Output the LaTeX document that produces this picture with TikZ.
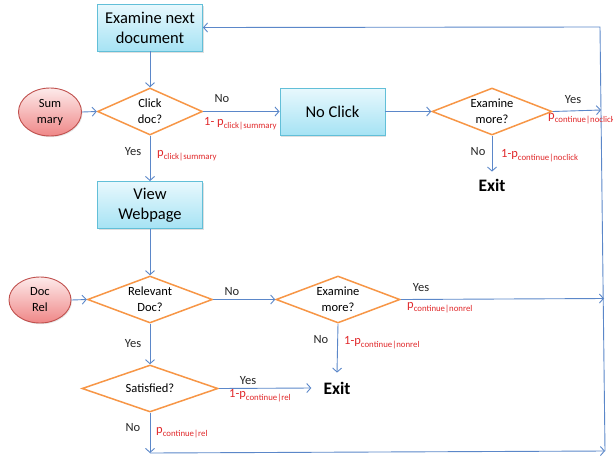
\documentclass[tikz,border=0pt]{standalone}
\usepackage{fontspec}
\setmainfont{Carlito}
\usetikzlibrary{shapes.geometric,arrows.meta,shadows}
\definecolor{boxtop}{HTML}{E8F8FD}
\definecolor{boxbot}{HTML}{A6E3F4}
\definecolor{boxline}{HTML}{62BFD8}
\definecolor{elltop}{HTML}{FDEAEA}
\definecolor{ellbot}{HTML}{EF8787}
\definecolor{ellline}{HTML}{C0504D}
\definecolor{decline}{HTML}{F79646}
\definecolor{conn}{HTML}{5B87C9}
\definecolor{plabel}{HTML}{E0282A}
\newcommand{\psub}[1]{p\raisebox{-3pt}{\fontsize{8.8}{10}\selectfont #1}}
\begin{document}
\begin{tikzpicture}[x=1pt,y=-1pt,
  boxnode/.style={rectangle, draw=boxline, line width=0.9pt, top color=boxtop, bottom color=boxbot,
    minimum width=105pt, minimum height=47pt, inner sep=0pt, align=center,
    font=\fontsize{16.5}{20}\selectfont,
    drop shadow={opacity=0.25, shadow xshift=1.2pt, shadow yshift=-1.5pt, fill=gray}},
  decnode/.style={diamond, draw=decline, line width=1.5pt, fill=white, aspect=2.6, inner sep=0pt,
    align=center, font=\fontsize{12.5}{16}\selectfont, minimum height=47pt},
  srcnode/.style={ellipse, draw=ellline, line width=0.9pt, top color=elltop, bottom color=ellbot,
    inner sep=0pt, align=center, font=\fontsize{12.5}{16}\selectfont,
    drop shadow={opacity=0.2, shadow xshift=1pt, shadow yshift=-1.2pt, fill=gray}},
  exitnode/.style={font=\fontsize{17.5}{20}\selectfont\bfseries, inner xsep=12pt},
  arr/.style={draw=conn, line width=0.9pt, -{Straight Barb[length=4pt,width=9pt]}},
  lbl/.style={font=\fontsize{12.5}{15}\selectfont, text=black!85, inner sep=0pt},
  plbl/.style={font=\fontsize{12.5}{15}\selectfont, text=plabel, inner sep=0pt, anchor=base west}]
\useasboundingbox (0,0) rectangle (613,456);

% nodes
\node[boxnode] (ex) at (150,27.5) {Examine next\\document};
\node[decnode, minimum width=105pt] (cd) at (150,111.5) {Click\\doc?};
\node[srcnode, minimum width=63pt, minimum height=48pt] (sum) at (50,112) {Sum\\mary};
\node[boxnode] (nc) at (332.5,111.5) {No Click};
\node[decnode, minimum width=120pt] (em1) at (492,111.5) {Examine\\more?};
\node[exitnode, inner ysep=7pt] (exit1) at (492,185) {Exit};
\node[boxnode] (vw) at (150,205) {View\\Webpage};
\node[decnode, minimum width=125pt] (rd) at (150,299.5) {Relevant\\Doc?};
\node[srcnode, minimum width=62pt, minimum height=46pt] (dr) at (40,300) {Doc\\Rel};
\node[decnode, minimum width=124pt] (em2) at (338,299.5) {Examine\\more?};
\node[decnode, minimum width=136pt] (sat) at (150,388.5) {Satisfied?};
\node[exitnode, inner ysep=9pt] (exit2) at (337,388) {Exit};

\coordinate (cb) at (150,453);
\coordinate (rb) at (605,451);
\coordinate (rt) at (600,27);
\coordinate (y1) at (601,110);
\coordinate (y2) at (604,298.5);

% connectors
\draw[arr] (ex.south) -- (cd.north);
\draw[arr] (sum.east) -- (cd.west);
\draw[arr] (cd.east) -- (nc.west);
\draw[arr] (nc.east) -- (em1.west);
\draw[arr] (em1.east) -- (y1);
\draw[arr] (em1.south) -- (exit1.north);
\draw[arr] (cd.south) -- (vw.north);
\draw[arr] (vw.south) -- (rd.north);
\draw[arr] (dr.east) -- (rd.west);
\draw[arr] (rd.east) -- (em2.west);
\draw[arr] (em2.east) -- (y2);
\draw[arr] (em2.south) -- (exit2.north);
\draw[arr] (rd.south) -- (sat.north);
\draw[arr] (sat.east) -- (exit2.west);
\draw[arr] (sat.south) -- (cb);
\draw[arr] (cb) -- (rb);
\draw[arr] (rb) -- (rt) -- (ex.east);

% labels
\node[lbl] (n1) at (222,98.5) {No};
\node[plbl] (p1) at (204,125) {1- \psub{click|summary}};
\node[lbl] (y1l) at (133,152) {Yes};
\node[plbl] (p2) at (157,156) {\psub{click|summary}};
\node[lbl] (y2l) at (573,100) {Yes};
\node[plbl] (p3) at (548,119) {\psub{continue|noclick}};
\node[lbl] (n2) at (478,152) {No};
\node[plbl] (p4) at (501,157) {1-\psub{continue|noclick}};
\node[lbl] (n3) at (232,292) {No};
\node[lbl] (y3l) at (421,288) {Yes};
\node[plbl] (p5) at (407,308) {\psub{continue|nonrel}};
\node[lbl] (n4) at (321,340) {No};
\node[plbl] (p6) at (344,344) {1-\psub{continue|nonrel}};
\node[lbl] (y4l) at (133,344) {Yes};
\node[lbl] (y5l) at (248,381) {Yes};
\node[plbl] (p7) at (229,397) {1-\psub{continue|rel}};
\node[lbl] (n5) at (133,428) {No};
\node[plbl] (p8) at (156,433) {\psub{continue|rel}};
\end{tikzpicture}
\end{document}
